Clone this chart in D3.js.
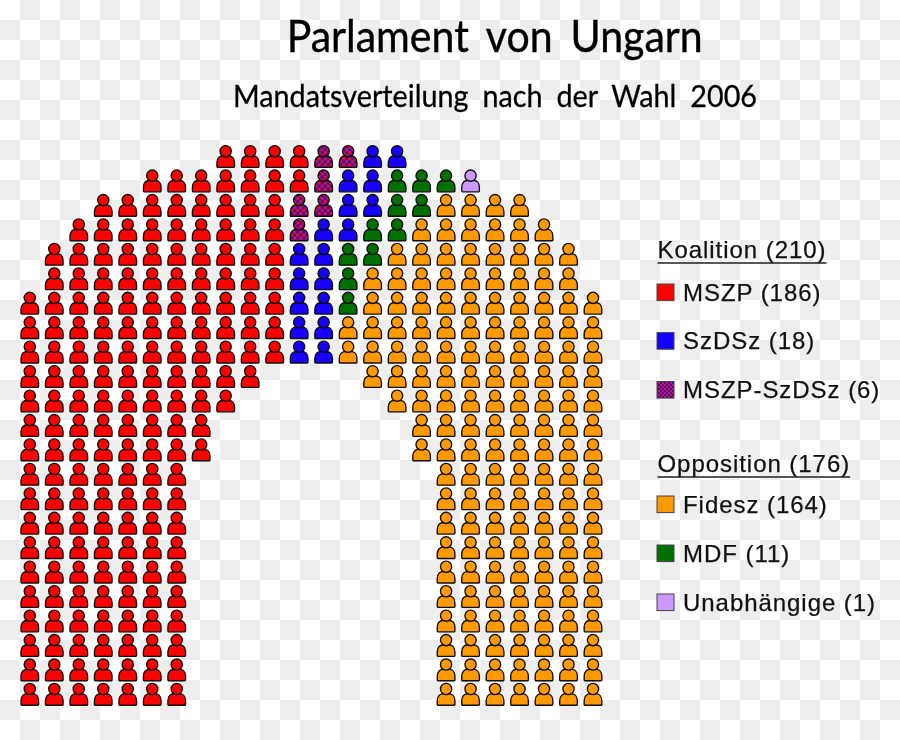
<!DOCTYPE html>
<html>
<head>
<meta charset="utf-8">
<script src="https://cdnjs.cloudflare.com/ajax/libs/d3/7.8.5/d3.min.js"></script>
<style>
html,body{margin:0;padding:0;background:#fff;overflow:hidden}
svg{display:block}
</style>
</head>
<body>
<svg id="chart" width="900" height="740"></svg>
<script>
const titleText = "Parlament von Ungarn";
const subtitleText = "Mandatsverteilung nach der Wahl 2006";

const parties = ["MSZP", "MSZP-SzDSz", "SzDSz", "MDF", "Unabhängige", "Fidesz"];
const firstColumn = [8,5,3,2,1,1,0,0,0,0,0,0,0,0,0,0,0,0,0,0,0,0,0];
const lastColumn  = [15,18,20,21,22,22,23,23,23,23,23,23,23,23,23,23,23,23,23,23,23,23,23];
const mszpSeats   = [4,7,8,9,10,10,11,11,11,10,9,8,8,7,7,7,7,7,7,7,7,7,7];
const mixedSeats  = [2,1,2,1,0,0,0,0,0,0,0,0,0,0,0,0,0,0,0,0,0,0,0];
const szdszSeats  = [2,2,2,2,2,2,2,2,2,0,0,0,0,0,0,0,0,0,0,0,0,0,0];
const mdfSeats    = [0,3,2,2,2,1,1,0,0,0,0,0,0,0,0,0,0,0,0,0,0,0,0];
const indepSeats  = [0,1,0,0,0,0,0,0,0,0,0,0,0,0,0,0,0,0,0,0,0,0,0];
const fideszSeats = [0,0,4,6,8,9,10,11,11,10,9,8,8,7,7,7,7,7,7,7,7,7,7];

const legendGroups = ["Koalition (210)", "Opposition (176)"];
const koalitionLabels = ["MSZP (186)", "SzDSz (18)", "MSZP-SzDSz (6)"];
const koalitionParties = ["MSZP", "SzDSz", "MSZP-SzDSz"];
const oppositionLabels = ["Fidesz (164)", "MDF (11)", "Unabhängige (1)"];
const oppositionParties = ["Fidesz", "MDF", "Unabhängige"];

const svg = d3.select("#chart");
const defs = svg.append("defs");

const checker = defs.append("pattern").attr("id","checker").attr("width",40).attr("height",40).attr("patternUnits","userSpaceOnUse");
checker.append("rect").attr("width",40).attr("height",40).attr("fill","#fff");
checker.append("rect").attr("x",20).attr("y",0).attr("width",20).attr("height",20).attr("fill","#eeeeee");
checker.append("rect").attr("x",0).attr("y",20).attr("width",20).attr("height",20).attr("fill","#eeeeee");

const mix = defs.append("pattern").attr("id","mix").attr("width",6).attr("height",6).attr("patternUnits","userSpaceOnUse");
mix.append("rect").attr("width",6).attr("height",6).attr("fill","#2a10c8");
mix.append("rect").attr("x",0).attr("y",0).attr("width",3.2).attr("height",3.2).attr("fill","#f00818");
mix.append("rect").attr("x",3).attr("y",3).attr("width",3.2).attr("height",3.2).attr("fill","#f00818");

const mixSmall = defs.append("pattern").attr("id","mixSmall").attr("width",4).attr("height",4).attr("patternUnits","userSpaceOnUse");
mixSmall.append("rect").attr("width",4).attr("height",4).attr("fill","#2a10c8");
mixSmall.append("rect").attr("width",2).attr("height",2).attr("fill","#e01030");
mixSmall.append("rect").attr("x",2).attr("y",2).attr("width",2).attr("height",2).attr("fill","#e01030");

defs.append("filter").attr("id","soft").attr("x","-5%").attr("y","-5%").attr("width","110%").attr("height","110%")
  .append("feGaussianBlur").attr("stdDeviation",0.4);

const color = d3.scaleOrdinal()
  .domain(parties)
  .range(["#ff0000","url(#mix)","#1400ff","#007000","#cc99ff","#ff9900"]);

svg.append("rect").attr("width",900).attr("height",740).attr("fill","url(#checker)");

const seatsData = [];
firstColumn.forEach((start,row)=>{
  let col = start;
  [[mszpSeats,"MSZP"],[mixedSeats,"MSZP-SzDSz"],[szdszSeats,"SzDSz"],[mdfSeats,"MDF"],[indepSeats,"Unabhängige"]]
    .forEach(([arr,party])=>{
      for(let k=0;k<arr[row];k++) seatsData.push({row,col:col++,party});
    });
  for(let k=0;k<fideszSeats[row];k++) seatsData.push({row,col:lastColumn[row]-k,party:"Fidesz"});
});

const x = d3.scaleLinear().domain([0,23]).range([29.8,593]);
const y = d3.scaleLinear().domain([0,22]).range([151.2,689]);

const bodyPath = "M-8.2,16.2 Q-8.8,16.2 -8.8,15.4 L-8.8,11.5 C-8.8,7 -6,4.6 -2.5,4.6 L2.5,4.6 C6,4.6 8.8,7 8.8,11.5 L8.8,15.4 Q8.8,16.2 8.2,16.2 Z";

const seats = svg.append("g").attr("filter","url(#soft)")
  .selectAll("g").data(seatsData).join("g")
  .attr("transform",d=>`translate(${x(d.col)},${y(d.row)})`);
seats.append("path").attr("d",bodyPath)
  .attr("fill",d=>color(d.party)).attr("stroke","#0c0c0c").attr("stroke-width",1.35).attr("stroke-linejoin","round");
seats.append("circle").attr("r",5.6)
  .attr("fill",d=>color(d.party)).attr("stroke","#0c0c0c").attr("stroke-width",1.35);

const titleFont = "Lato, 'Open Sans', sans-serif";
svg.append("text").attr("x",286.7).attr("y",52)
  .attr("font-family",titleFont).attr("font-size",44).attr("word-spacing",8).attr("fill","#000")
  .attr("stroke","#000").attr("stroke-width",0.4)
  .attr("textLength",416).attr("lengthAdjust","spacingAndGlyphs").text(titleText);
svg.append("text").attr("x",233).attr("y",107)
  .attr("font-family",titleFont).attr("font-size",30.5).attr("word-spacing",7).attr("fill","#000")
  .attr("stroke","#000").attr("stroke-width",0.3)
  .attr("textLength",524).attr("lengthAdjust","spacingAndGlyphs").text(subtitleText);

const legendX = 657, textX = 683;
const sans = "'Liberation Sans', Arial, sans-serif";
const legendSize = 24, legendSpacing = 0.95;

function legendBlock(title, titleY, labels, keys, swatchTops){
  const t = svg.append("text").attr("x",textX-25.5).attr("y",titleY)
    .attr("font-family",sans).attr("font-size",legendSize).attr("letter-spacing",legendSpacing)
    .attr("fill","#111").attr("stroke","#111").attr("stroke-width",0.25).text(title);
  const w = t.node().getComputedTextLength();
  svg.append("line").attr("x1",textX-25.5).attr("x2",textX-25.5+w).attr("y1",titleY+5).attr("y2",titleY+5)
    .attr("stroke","#222").attr("stroke-width",1.6);
  const g = svg.append("g").selectAll("g").data(labels).join("g");
  g.append("rect").attr("x",legendX).attr("y",(d,i)=>swatchTops[i]).attr("width",17).attr("height",16.6)
    .attr("fill",(d,i)=>keys[i]==="MSZP-SzDSz" ? "url(#mixSmall)" : color(keys[i])).attr("stroke","#444").attr("stroke-width",1);
  g.append("text").attr("x",textX).attr("y",(d,i)=>swatchTops[i]+16.6)
    .attr("font-family",sans).attr("font-size",legendSize).attr("letter-spacing",legendSpacing)
    .attr("fill","#111").attr("stroke","#111").attr("stroke-width",0.25).text(d=>d);
}
legendBlock(legendGroups[0],258,koalitionLabels,koalitionParties,[284,332.6,381.5]);
legendBlock(legendGroups[1],472,oppositionLabels,oppositionParties,[496,545,594]);
</script>
</body>
</html>
